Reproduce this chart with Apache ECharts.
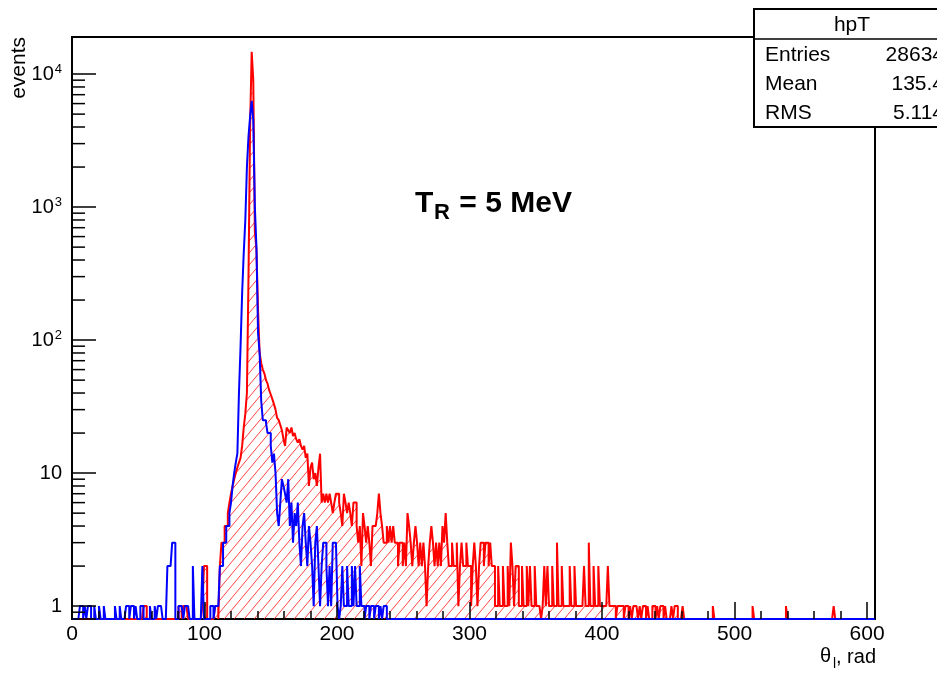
<!DOCTYPE html>
<html>
<head>
<meta charset="utf-8">
<script src="https://cdn.jsdelivr.net/npm/echarts@6/dist/echarts.min.js"></script>
<style>
html, body { margin: 0; padding: 0; background: #fff; }
#chart { width: 937px; height: 673px; }
</style>
</head>
<body>
<div id="chart"></div>
<script>
// histogram binning (theta_l, rad)
const binWidth = 1.2;
const xMax = 606;
const yMin = 0.8;
const yMax = 19000;

const xTickStep = 100;
const yMinorTicks = [0.9, 2, 3, 4, 5, 6, 7, 8, 9, 20, 30, 40, 50, 60, 70, 80, 90,
  200, 300, 400, 500, 600, 700, 800, 900, 2000, 3000, 4000, 5000, 6000, 7000, 8000, 9000];

// red histogram (hpT), 25 bins per row = 30 rad
const redCounts = [
  0,0,0,0,0, 0,0,0,0,0, 0,0,0,0,0, 0,0,0,0,0, 0,0,0,0,0,          // 0-30
  0,0,0,0,0, 0,0,0,0,0, 0,0,0,0,0, 0,0,0,0,0, 1,1,0,0,0,          // 30-60
  0,0,0,0,0, 0,0,0,0,0, 0,0,0,0,0, 0,0,1,1,0, 1,1,1,0,0,          // 60-90
  0,0,0,0,0, 0,0,1,2,2, 0,0,0,0,0, 1,1,0,2,3, 3,4,4,5,6,          // 90-120
  7,8,9,10,11, 12,13,16,22,28, 40,300,4000,14700,9000, 650,480,170,80,67, 60,56,50,47,42, // 120-150
  39,36,33,30,26, 25,23,21,18,16, 22,21,20,22,19, 20,18,17,18,16, 15,16,13,14,8, // 150-180
  11,12,9,10,8, 11,14,6,7,6, 7,6,7,6,5, 6,7,7,6,5, 4,7,6,5,6,     // 180-210
  5,4,6,6,4, 3,4,2,5,4, 3,4,3,2,4, 4,4,5,7,5, 4,3,3,4,3,          // 210-240
  4,3,4,3,3, 2,3,3,2,3, 2,5,4,3,2, 3,4,3,2,3, 2,3,2,1,2,          // 240-270
  3,4,3,2,3, 2,3,2,4,3, 5,3,2,2,3, 2,2,3,1,2, 3,2,2,3,2,          // 270-300
  2,1,2,3,2, 1,2,3,3,2, 3,3,2,3,2, 2,1,1,2,1, 1,2,1,1,2,          // 300-330
  1,3,2,1,2, 2,1,1,2,1, 1,2,1,2,1, 1,2,1,1,1, 0,1,2,1,2,          // 330-360
  1,1,2,1,1, 3,1,1,2,1, 1,1,1,2,1, 1,2,1,1,1, 1,1,2,1,1,          // 360-390
  3,1,1,2,1, 1,2,1,1,1, 1,1,2,1,1, 1,1,0,1,1, 1,1,0,1,1,          // 390-420
  0,1,0,1,1, 1,0,1,0,1, 1,0,1,0,0, 1,1,0,1,0, 1,1,0,1,0,          // 420-450
  0,0,1,0,1, 1,0,0,0,1, 0,0,0,0,0, 0,0,0,0,0, 0,0,0,0,0,          // 450-480
  0,0,0,1,0, 0,0,0,0,0, 0,0,0,0,0, 0,0,0,0,0, 0,0,0,0,0,          // 480-510
  0,0,0,1,0, 0,0,0,0,0, 0,0,0,0,0, 0,0,0,0,0, 0,0,0,0,1,          // 510-540
  0,0,0,0,0, 0,0,0,0,0, 0,0,0,0,0, 0,0,0,0,0, 0,0,0,0,0,          // 540-570
  0,0,0,0,1, 0,0,0,0,0, 0,0,0,0,0, 0,0,0,0,0, 0,0,0,0,0,          // 570-600
  0,0,0,0,0                                                       // 600-606
];

// blue histogram
const blueCounts = [
  0,0,0,0,0, 1,1,0,1,0, 1,1,0,0,1, 0,0,1,0,0, 1,0,0,0,0,          // 0-30
  0,0,1,0,0, 1,0,0,0,1, 1,0,1,1,0, 1,0,0,1,1, 0,0,0,0,1,          // 30-60
  0,0,1,0,1, 1,1,0,0,0, 2,2,2,3,3, 0,0,1,1,1, 0,1,1,1,0,          // 60-90
  0,2,0,0,0, 0,0,2,0,0, 0,0,1,1,0, 1,1,1,2,2, 3,3,4,4,5,          // 90-120
  6,8,10,12,14, 40,89,226,450,800, 2000,3400,4800,6300,4500, 1000,500,113,80,35, 25,25,24,20,20, // 120-150
  16,12,14,10,5, 4,6,9,8,7, 6,9,4,6,3, 5,4,6,3,2, 4,5,3,2,4,      // 150-180
  3,2,1,3,4, 2,1,2,3,3, 2,1,2,1,3, 3,3,1,0,1, 2,1,1,2,1,          // 180-210
  1,2,1,2,1, 1,2,1,1,0, 1,1,0,1,1, 0,1,1,0,1, 0,1,1,0,0,          // 210-240
  0,0,0,0,0, 0,0,0,0,0, 0,0,0,0,0, 0,0,0,0,0, 0,0,0,0,0,          // 240-270
  0,0,0,0,0, 0,0,0,0,0, 0,0,0,0,0, 0,0,0,0,0, 0,0,0,0,0,
  0,0,0,0,0, 0,0,0,0,0, 0,0,0,0,0, 0,0,0,0,0, 0,0,0,0,0,
  0,0,0,0,0, 0,0,0,0,0, 0,0,0,0,0, 0,0,0,0,0, 0,0,0,0,0,
  0,0,0,0,0, 0,0,0,0,0, 0,0,0,0,0, 0,0,0,0,0, 0,0,0,0,0,
  0,0,0,0,0, 0,0,0,0,0, 0,0,0,0,0, 0,0,0,0,0, 0,0,0,0,0,
  0,0,0,0,0, 0,0,0,0,0, 0,0,0,0,0, 0,0,0,0,0, 0,0,0,0,0,
  0,0,0,0,0, 0,0,0,0,0, 0,0,0,0,0, 0,0,0,0,0, 0,0,0,0,0,
  0,0,0,0,0, 0,0,0,0,0, 0,0,0,0,0, 0,0,0,0,0, 0,0,0,0,0,
  0,0,0,0,0, 0,0,0,0,0, 0,0,0,0,0, 0,0,0,0,0, 0,0,0,0,0,
  0,0,0,0,0, 0,0,0,0,0, 0,0,0,0,0, 0,0,0,0,0, 0,0,0,0,0,
  0,0,0,0,0, 0,0,0,0,0, 0,0,0,0,0, 0,0,0,0,0, 0,0,0,0,0,
  0,0,0,0,0
];

const statLabels = ["Entries", "Mean", "RMS"];
const statValues = ["28634", "135.4", "5.114"];

const FONT = "Liberation Sans, Arial, Helvetica, sans-serif";

// empty bins sit on the bottom of the frame, like ROOT does on a log scale
function toSteps(counts) {
    const pts = counts.map((c, i) => [i * binWidth, Math.max(c, yMin)]);
    pts.push([xMax, Math.max(counts[counts.length - 1], yMin)]);
    return pts;
}

// diagonal hatch like fill style 3004
const hatch = document.createElement("canvas");
hatch.width = 10;
hatch.height = 12;
const hctx = hatch.getContext("2d");
hctx.strokeStyle = "rgba(255,0,0,0.75)";
hctx.lineWidth = 1;
[0, 1, 2].forEach(k => {
    hctx.beginPath();
    hctx.moveTo(k * 10 - 10, 12);
    hctx.lineTo(k * 10, 0);
    hctx.stroke();
});

const chart = echarts.init(document.getElementById("chart"), null, { renderer: "canvas" });

const option = {
    animation: false,
    backgroundColor: "#fff",
    grid: {
        left: 72, top: 37, right: 62, bottom: 54,
        show: true, borderColor: "#000", borderWidth: 2,
        outerBoundsMode: "none"
    },
    xAxis: {
        type: "value",
        min: 0, max: xMax, interval: xTickStep,
        z: 5,
        axisLine: { show: false },
        axisTick: { show: true, inside: true, length: 17, lineStyle: { color: "#000", width: 1.5 } },
        minorTick: { show: true, splitNumber: 5, length: 8, lineStyle: { color: "#000", width: 1.5 } },
        splitLine: { show: false },
        minorSplitLine: { show: false },
        axisLabel: {
            color: "#000", fontSize: 21, fontFamily: FONT, margin: 5,
            formatter: v => (v % xTickStep === 0 ? String(v) : "")
        }
    },
    yAxis: {
        type: "log",
        logBase: 10,
        min: yMin, max: yMax,
        z: 5,
        axisLine: { show: false },
        axisTick: { show: true, inside: true, length: 24, lineStyle: { color: "#000", width: 1.5 } },
        splitLine: { show: false },
        axisLabel: {
            color: "#000", fontSize: 20, fontFamily: FONT, margin: 10,
            formatter: v => {
                const l = Math.log10(v);
                const e = Math.round(l);
                if (Math.abs(l - e) > 1e-6) return "";
                if (e === 0) return "1";
                if (e === 1) return "10";
                return "{b|10}{s|" + e + "}";
            },
            rich: {
                b: { fontSize: 20, fontFamily: FONT, color: "#000" },
                s: { fontSize: 13, fontFamily: FONT, color: "#000", verticalAlign: "top", padding: [0, 0, 10, 1] }
            }
        }
    },
    series: [
        {
            name: "hpT",
            type: "line",
            step: "end",
            showSymbol: false,
            symbol: "none",
            clip: true,
            z: 2,
            lineStyle: { color: "#ff0000", width: 2 },
            areaStyle: { origin: "start", color: { image: hatch, repeat: "repeat" }, opacity: 1 },
            data: toSteps(redCounts)
        },
        {
            name: "blue",
            type: "line",
            step: "end",
            showSymbol: false,
            symbol: "none",
            clip: true,
            z: 3,
            lineStyle: { color: "#0000ff", width: 2 },
            data: toSteps(blueCounts)
        },
        {
            // minor ticks of the log axis (2..9 per decade)
            type: "custom",
            silent: true,
            clip: false,
            z: 6,
            data: yMinorTicks.map(v => [0, v]),
            renderItem: (params, api) => {
                const p = api.coord([0, api.value(1)]);
                return {
                    type: "line",
                    shape: { x1: p[0], y1: p[1], x2: p[0] + 13, y2: p[1] },
                    style: { stroke: "#000", lineWidth: 1.5 }
                };
            }
        }
    ],
    graphic: [
        // axis titles
        {
            type: "text", x: 19, y: 37, rotation: Math.PI / 2, z: 100,
            style: { text: "events", fontSize: 21, fontFamily: FONT, fill: "#000", align: "right", verticalAlign: "middle" }
        },
        {
            type: "text", x: 876, y: 657, z: 100,
            style: { text: ", rad", fontSize: 20, fontFamily: FONT, fill: "#000", align: "right", verticalAlign: "middle" }
        },
        {
            type: "text", x: 836, y: 664, z: 100,
            style: { text: "l", fontSize: 14, fontFamily: FONT, fill: "#000", align: "right", verticalAlign: "middle" }
        },
        {
            type: "text", x: 831, y: 656, z: 100,
            style: { text: "θ", fontSize: 20, fontFamily: FONT, fill: "#000", align: "right", verticalAlign: "middle" }
        },
        // annotation
        {
            type: "text", x: 415, y: 204, z: 100,
            style: { text: "T", fontSize: 30, fontWeight: "bold", fontFamily: FONT, fill: "#000", align: "left", verticalAlign: "middle" }
        },
        {
            type: "text", x: 434, y: 213, z: 100,
            style: { text: "R", fontSize: 22, fontWeight: "bold", fontFamily: FONT, fill: "#000", align: "left", verticalAlign: "middle" }
        },
        {
            type: "text", x: 451, y: 204, z: 100,
            style: { text: " = 5 MeV", fontSize: 30, fontWeight: "bold", fontFamily: FONT, fill: "#000", align: "left", verticalAlign: "middle" }
        },
        // stats box
        {
            type: "rect", z: 100,
            shape: { x: 754, y: 9, width: 210, height: 118 },
            style: { fill: "#fff", stroke: "#000", lineWidth: 2 }
        },
        {
            type: "line", z: 101,
            shape: { x1: 754, y1: 39, x2: 964, y2: 39 },
            style: { stroke: "#000", lineWidth: 1.5 }
        },
        {
            type: "text", x: 852, y: 25, z: 102,
            style: { text: "hpT", fontSize: 21, fontFamily: FONT, fill: "#000", align: "center", verticalAlign: "middle" }
        }
    ].concat(statLabels.map((t, i) => ({
        type: "text", x: 765, y: 55 + i * 29, z: 102,
        style: { text: t, fontSize: 21, fontFamily: FONT, fill: "#000", align: "left", verticalAlign: "middle" }
    }))).concat(statValues.map((t, i) => ({
        type: "text", x: 944, y: 55 + i * 29, z: 102,
        style: { text: t, fontSize: 21, fontFamily: FONT, fill: "#000", align: "right", verticalAlign: "middle" }
    })))
};

chart.setOption(option);
</script>
</body>
</html>
